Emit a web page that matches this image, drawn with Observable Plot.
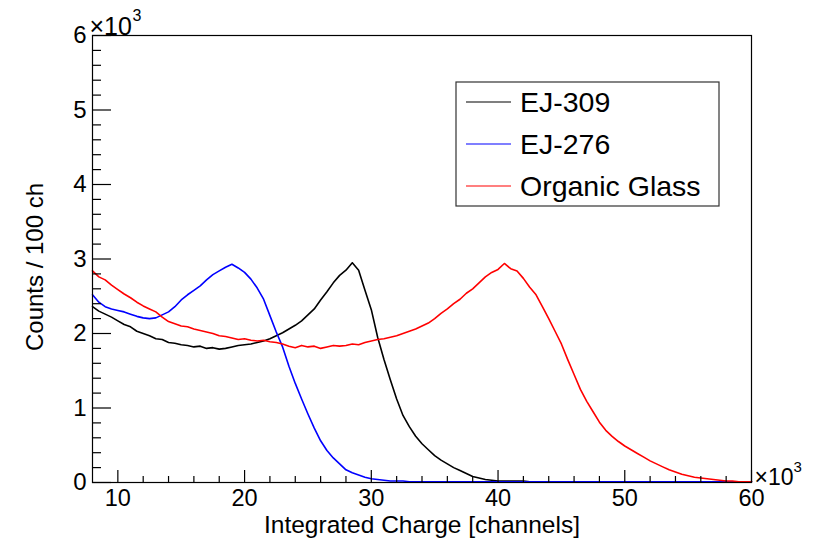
<!DOCTYPE html>
<html><head><meta charset="utf-8">
<script src="https://cdn.jsdelivr.net/npm/d3@7"></script>
<script src="https://cdn.jsdelivr.net/npm/@observablehq/plot@0.6"></script>
<style>
body{margin:0;background:#fff;}
#chart{width:819px;height:539px;}
</style></head><body><div id="chart"></div>
<script>
// x: channel position, in units of 10^3 channels (read every 500 channels)
const binStart = d3.range(8, 60.001, 0.5);
// y: counts / 100 ch, in units of 10^3
const ej309 = [
2.36,2.30,2.26,2.22,2.17,2.12,2.09,2.03,2.00,1.97,
1.93,1.92,1.88,1.87,1.85,1.84,1.82,1.83,1.80,1.81,
1.79,1.80,1.82,1.84,1.85,1.86,1.88,1.90,1.93,1.97,
2.01,2.06,2.11,2.17,2.25,2.33,2.45,2.56,2.68,2.78,
2.85,2.95,2.85,2.58,2.32,1.95,1.65,1.38,1.12,0.90,
0.75,0.62,0.52,0.44,0.36,0.30,0.25,0.20,0.16,0.12,
0.08,0.06,0.04,0.03,0.02,0.02,0.02,0.02,0.02,0.01,
0.01,0.01,0.01,0.01,0.01,0.01,0.01,0.01,0.01,0.01,
0.01,0.01,0.01,0.01,0.01,0.01,0.01,0.01,0.01,0.01,
0.01,0.01,0.01,0.01,0.01,0.01,0.01,0.01,0.01,0.01,
0.01,0.01,0.01,0.01,0.01];
const ej276 = [
2.52,2.42,2.36,2.33,2.31,2.29,2.26,2.23,2.21,2.20,
2.21,2.25,2.29,2.36,2.45,2.52,2.58,2.64,2.72,2.79,
2.84,2.89,2.93,2.88,2.82,2.73,2.61,2.46,2.24,2.02,
1.82,1.56,1.33,1.12,0.92,0.73,0.56,0.43,0.33,0.25,
0.17,0.13,0.10,0.07,0.05,0.04,0.03,0.02,0.02,0.02,
0.01,0.01,0.01,0.01,0.01,0.01,0.01,0.01,0.01,0.01,
0.01,0.01,0.01,0.01,0.01,0.01,0.01,0.01,0.01,0.01,
0.01,0.01,0.01,0.01,0.01,0.01,0.01,0.01,0.01,0.01,
0.01,0.01,0.01,0.01,0.01,0.01,0.01,0.01,0.01,0.01,
0.01,0.01,0.01,0.01,0.01,0.01,0.01,0.01,0.01,0.01,
0.01,0.01,0.01,0.01,0.01];
const organicGlass = [
2.84,2.76,2.72,2.65,2.59,2.53,2.48,2.42,2.37,2.33,
2.29,2.22,2.16,2.13,2.10,2.09,2.06,2.04,2.02,2.00,
1.97,1.96,1.94,1.92,1.93,1.91,1.90,1.91,1.89,1.88,
1.86,1.83,1.81,1.84,1.82,1.83,1.80,1.82,1.84,1.83,
1.84,1.86,1.85,1.88,1.90,1.92,1.93,1.95,1.97,2.00,
2.03,2.06,2.10,2.14,2.20,2.27,2.33,2.40,2.46,2.54,
2.60,2.68,2.76,2.82,2.86,2.94,2.87,2.84,2.74,2.62,
2.52,2.36,2.20,2.03,1.86,1.65,1.45,1.25,1.09,0.95,
0.81,0.70,0.62,0.55,0.49,0.44,0.39,0.34,0.29,0.25,
0.21,0.17,0.14,0.11,0.09,0.07,0.06,0.05,0.04,0.03,
0.02,0.02,0.01,0.01,0.01];

const seriesNames = ["EJ-309", "EJ-276", "Organic Glass"];
const seriesColors = ["#000000", "#0000ff", "#ff0000"];
const xMajorTicks = [10, 20, 30, 40, 50, 60];
const xMinorTicks = [12,14,16,18,22,24,26,28,32,34,36,38,42,44,46,48,52,54,56,58];
const yMajorTicks = [0, 1, 2, 3, 4, 5, 6];
const yMinorTicks = [0.2,0.4,0.6,0.8,1.2,1.4,1.6,1.8,2.2,2.4,2.6,2.8,3.2,3.4,3.6,3.8,4.2,4.4,4.6,4.8,5.2,5.4,5.6,5.8];
const xTitle = "Integrated Charge [channels]";
const yTitle = "Counts / 100 ch";
const expBase = "×10";
const expPower = "3";

const W = 819, H = 539;
const mL = 92, mR = 68, mT = 35, mB = 57;
const fw = W - mL - mR, fh = H - mT - mB;
const FONT = "'Liberation Sans', Arial, Helvetica, sans-serif";

const seriesValues = [ej309, ej276, organicGlass];
const rows = [];
seriesValues.forEach((vals, s) => vals.forEach((v, i) => rows.push({x: binStart[i], y: v, series: seriesNames[s]})));

const plot = Plot.plot({
  width: W, height: H,
  marginLeft: mL, marginRight: mR, marginTop: mT, marginBottom: mB,
  style: {fontFamily: FONT, fontSize: "24px", background: "#fff", color: "#000"},
  x: {domain: [8, 60]},
  y: {domain: [0, 6]},
  color: {domain: seriesNames, range: seriesColors},
  marks: [
    Plot.line(rows, {x: "x", y: "y", z: "series", stroke: "series", curve: "linear", strokeWidth: 1.6}),
    Plot.frame({stroke: "#000", strokeWidth: 1.2}),
    Plot.tickY(yMajorTicks, {y: d => d, insetRight: fw - 19, stroke: "#000", strokeWidth: 1.2}),
    Plot.tickY(yMinorTicks, {y: d => d, insetRight: fw - 9, stroke: "#000", strokeWidth: 1.2}),
    Plot.tickX(xMajorTicks, {x: d => d, insetTop: fh - 12, stroke: "#000", strokeWidth: 1.2}),
    Plot.tickX(xMinorTicks, {x: d => d, insetTop: fh - 6, stroke: "#000", strokeWidth: 1.2}),
    Plot.axisY(yMajorTicks, {tickSize: 0, tickPadding: 6, label: null, fontSize: 24, tickFormat: d => String(d)}),
    Plot.axisX(xMajorTicks, {tickSize: 0, tickPadding: 7, label: null, fontSize: 23.5, tickFormat: d => String(d)}),
    Plot.text([xTitle], {frameAnchor: "bottom", textAnchor: "middle", dy: 42.5, fontSize: 24.5, lineAnchor: "middle"}),
    Plot.text([yTitle], {frameAnchor: "left", textAnchor: "middle", rotate: -90, dx: -57, dy: 8, fontSize: 24, lineAnchor: "middle"}),
    Plot.text([expBase], {frameAnchor: "top-left", textAnchor: "start", lineAnchor: "bottom", dx: -3, dy: -1, fontSize: 25}),
    Plot.text([expPower], {frameAnchor: "top-left", textAnchor: "start", lineAnchor: "bottom", dx: 40, dy: -15, fontSize: 16}),
    Plot.text([expBase], {frameAnchor: "bottom-right", textAnchor: "start", lineAnchor: "bottom", dx: 3, dy: 2, fontSize: 23}),
    Plot.text([expPower], {frameAnchor: "bottom-right", textAnchor: "start", lineAnchor: "bottom", dx: 42, dy: -11, fontSize: 15})
  ]
});
document.getElementById("chart").appendChild(plot);

// Legend (ROOT TLegend style) drawn into the plot's SVG
const svg = d3.select(plot);
const lg = svg.append("g").attr("font-family", FONT).attr("text-anchor", "start");
lg.append("rect").attr("x", 456).attr("y", 82).attr("width", 263).attr("height", 124)
  .attr("fill", "#fff").attr("stroke", "#333").attr("stroke-width", 1.2);
const rowY = [102, 144, 186];
seriesNames.forEach((name, i) => {
  lg.append("line").attr("x1", 466).attr("x2", 511).attr("y1", rowY[i]).attr("y2", rowY[i])
    .attr("stroke", seriesColors[i]).attr("stroke-width", 1.2);
  lg.append("text").attr("x", 520).attr("y", rowY[i]).attr("dy", "0.35em")
    .attr("text-anchor", "start").attr("font-size", 28.5).attr("fill", "#000").text(name);
});
</script></body></html>
